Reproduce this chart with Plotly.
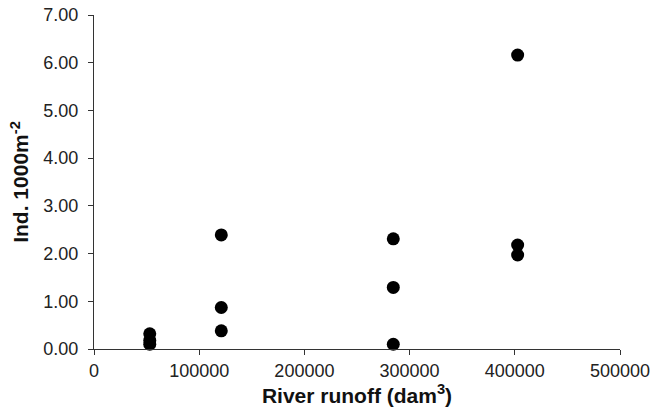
import plotly.graph_objects as go

runoff = [53000, 53000, 53000, 121000, 121000, 121000, 284500, 284500, 284500, 402700, 402700, 402700]
density = [0.32, 0.18, 0.10, 2.39, 0.87, 0.38, 2.31, 1.29, 0.10, 6.16, 2.18, 1.97]

FONT = "Liberation Sans, Arial, sans-serif"

fig = go.Figure()
fig.add_trace(go.Scatter(
    x=runoff, y=density, mode="markers",
    marker=dict(color="black", size=13),
    showlegend=False, cliponaxis=False,
))

axis_common = dict(
    showline=True, linecolor="#333333", linewidth=1.3,
    ticks="outside", ticklen=5, tickcolor="#333333", tickwidth=1.3,
    showgrid=False, zeroline=False, automargin=False,
    ticklabeloverflow="allow",
    tickfont=dict(family=FONT, size=18, color="#222222"),
)

fig.update_layout(
    width=651, height=413,
    margin=dict(l=94, r=31, t=15, b=64),
    plot_bgcolor="white", paper_bgcolor="white",
    xaxis=dict(range=[0, 500000], tickmode="linear", tick0=0, dtick=100000,
               tickformat="d",
               title=dict(text="<b>River runoff (dam<sup>3</sup>)</b>", standoff=4,
                          font=dict(family=FONT, size=21, color="#111111")),
               **axis_common),
    yaxis=dict(range=[0, 7], tickmode="linear", tick0=0, dtick=1, tickformat=".2f",
               ticklabelstandoff=6,
               title=dict(text="<b>Ind. 1000m<sup>-2</sup></b>", standoff=8,
                          font=dict(family=FONT, size=21, color="#111111")),
               **axis_common),
)

fig.write_html("out.html", config={"displayModeBar": False},
               post_script="document.body.style.margin='0';")
